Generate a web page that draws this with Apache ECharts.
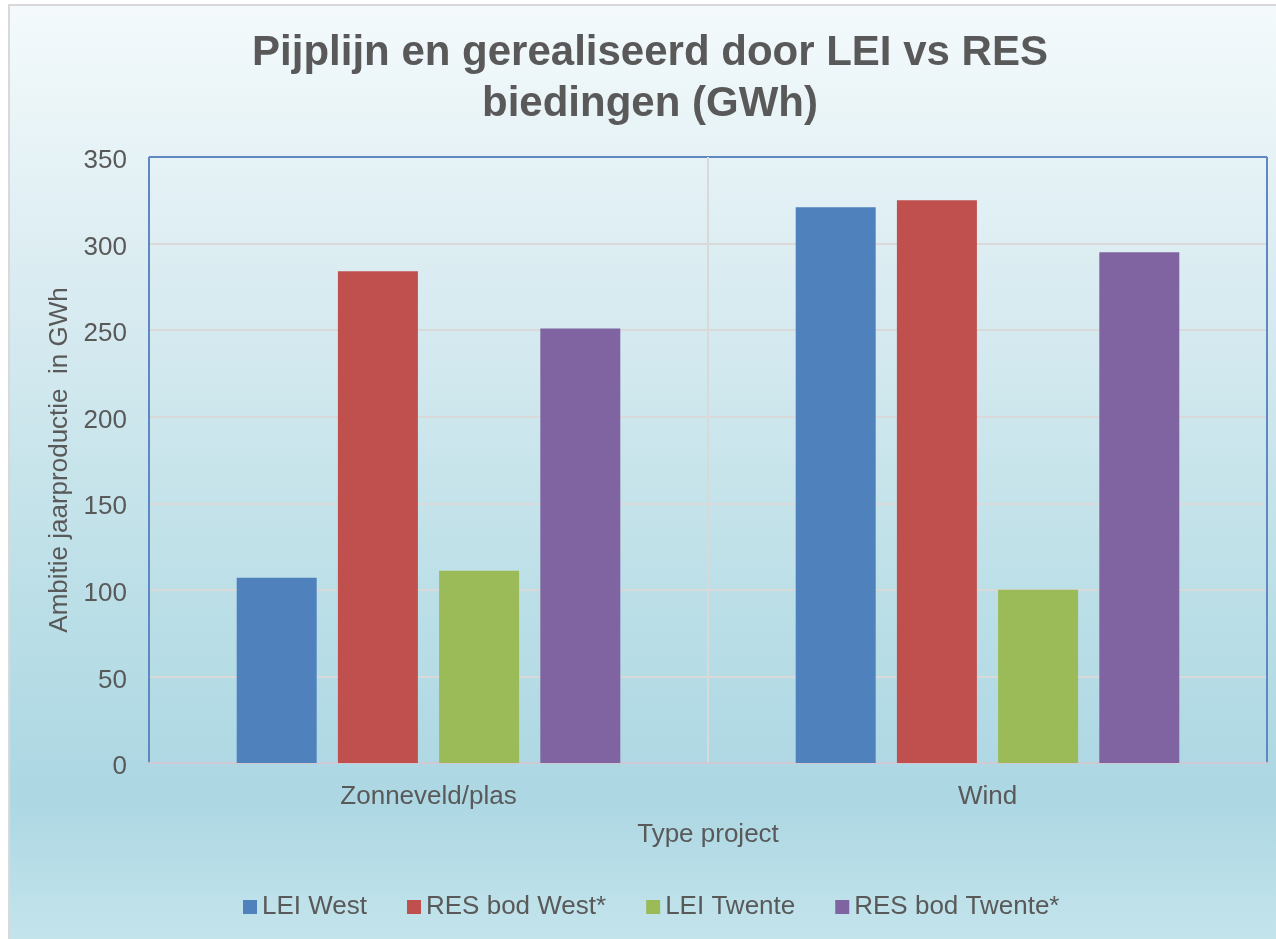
<!DOCTYPE html>
<html>
<head>
<meta charset="utf-8">
<script src="https://cdn.jsdelivr.net/npm/echarts@6/dist/echarts.min.js"></script>
<style>
  html, body { margin: 0; padding: 0; background: #ffffff; width: 1276px; height: 939px; overflow: hidden; }
  #frame { position: absolute; left: 8px; top: 4px; width: 1268px; height: 935px; background: #d9d9d9; }
  #chart { position: absolute; left: 10px; top: 6px; width: 1266px; height: 933px; }
</style>
</head>
<body>
<div id="frame"></div>
<div id="chart"></div>
<script>
const categories = ['Zonneveld/plas', 'Wind'];
const seriesNames = ['LEI West', 'RES bod West*', 'LEI Twente', 'RES bod Twente*'];
const leiWest = [107, 321];
const resWest = [284, 325];
const leiTwente = [111, 100];
const resTwente = [251, 295];
const yTicks = [0, 50, 100, 150, 200, 250, 300, 350];
const colors = ['#4f81bd', '#c0504d', '#9bbb59', '#8064a2'];

const textColor = '#595959';
const gridGray = '#d9d9d9';
const frameBlue = '#5f87c2';
const fontFamily = '"Liberation Sans", Arial, sans-serif';
const seriesData = [leiWest, resWest, leiTwente, resTwente];

// y split lines: gray everywhere except the top one (plot frame, blue)
const ySplitColors = yTicks.map((t, i) => i === yTicks.length - 1 ? frameBlue : gridGray);
// x split lines at category boundaries: outer ones are the blue frame
const xSplitColors = [frameBlue].concat(categories.slice(1).map(() => gridGray)).concat([frameBlue]);

const chart = echarts.init(document.getElementById('chart'), null, { renderer: 'canvas' });
chart.setOption({
  animation: false,
  backgroundColor: {
    type: 'linear', x: 0, y: 0, x2: 0, y2: 1,
    colorStops: [
      { offset: 0, color: '#f4fafc' },
      { offset: 0.27, color: '#dcedf2' },
      { offset: 0.63, color: '#bcdfe7' },
      { offset: 0.85, color: '#acd7e3' },
      { offset: 1, color: '#c4e4ec' }
    ]
  },
  textStyle: { fontFamily: fontFamily },
  title: {
    text: 'Pijplijn en gerealiseerd door LEI vs RES\nbiedingen (GWh)',
    left: 640,
    top: 22,
    textAlign: 'center',
    padding: 0,
    textStyle: {
      fontFamily: fontFamily,
      fontSize: 42,
      fontWeight: 'bold',
      color: textColor,
      lineHeight: 51,
      align: 'center'
    }
  },
  legend: {
    data: seriesNames,
    left: 233,
    top: 888,
    padding: 0,
    itemGap: 40,
    itemWidth: 14,
    itemHeight: 14,
    icon: 'rect',
    textStyle: { fontFamily: fontFamily, fontSize: 26, color: textColor }
  },
  grid: {
    left: 139, top: 151, right: 9, bottom: 176,
    show: false
  },
  xAxis: {
    type: 'category',
    data: categories,
    name: 'Type project',
    nameLocation: 'middle',
    nameGap: 59,
    nameTextStyle: { fontFamily: fontFamily, fontSize: 26, color: textColor },
    axisLine: { show: true, lineStyle: { color: '#d0c9d3', width: 2 } },
    axisTick: { show: false },
    axisLabel: { fontFamily: fontFamily, fontSize: 26, color: textColor, margin: 21 },
    splitLine: { show: true, lineStyle: { color: xSplitColors, width: 2 } }
  },
  yAxis: {
    type: 'value',
    min: yTicks[0],
    max: yTicks[yTicks.length - 1],
    interval: yTicks[1] - yTicks[0],
    name: 'Ambitie jaarproductie  in GWh',
    nameLocation: 'middle',
    nameGap: 72,
    nameTextStyle: { fontFamily: fontFamily, fontSize: 26, color: textColor },
    axisLine: { show: false },
    axisTick: { show: false },
    axisLabel: { fontFamily: fontFamily, fontSize: 26, color: textColor, margin: 22, verticalAlign: 'top', lineHeight: 8 },
    splitLine: { show: true, lineStyle: { color: ySplitColors, width: 2 } }
  },
  series: seriesNames.map((name, i) => ({
    name: name,
    type: 'bar',
    data: seriesData[i],
    barWidth: 80,
    barGap: '26.5%',
    itemStyle: { color: colors[i] }
  }))
});
</script>
</body>
</html>
